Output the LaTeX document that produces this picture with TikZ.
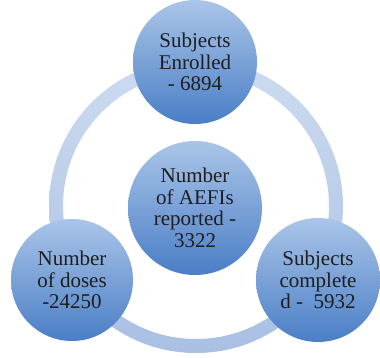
\documentclass[tikz,border=0pt]{standalone}
\usepackage{fontspec}
\setmainfont{Liberation Serif}
\begin{document}
\begin{tikzpicture}[x=1pt,y=-1pt,
  bubble/.style={circle, minimum size=#1, inner sep=0pt, align=center,
    top color=bubbletop, bottom color=bubblebot, draw=none,
    text=textgray, font=\fontsize{21}{21.5}\selectfont},
  ]
  \definecolor{bubbletop}{HTML}{AAC5E8}
  \definecolor{bubblebot}{HTML}{4A7EC6}
  \definecolor{ringtop}{HTML}{CCDBEF}
  \definecolor{ringbot}{HTML}{A9C0E3}
  \definecolor{textgray}{HTML}{1E1E1E}
  \useasboundingbox (0,0) rectangle (380,358);
  % connecting ring behind the bubbles
  \coordinate (hub) at (196,206);
  \shade[top color=ringtop, bottom color=ringbot, even odd rule]
    (hub) circle (147) (hub) circle (133);
  % bubbles
  \node[bubble=124] (enrolled) at (195,62) {Subjects\\Enrolled\\- 6894};
  \node[bubble=134] (aefi) at (195,208) {Number\\of AEFIs\\reported -\\3322};
  \node[bubble=122] (doses) at (72,280) {Number\\of doses\\-24250};
  \node[bubble=124] (completed) at (318,280) {Subjects\\complete\\d -\ \ 5932};
\end{tikzpicture}
\end{document}
